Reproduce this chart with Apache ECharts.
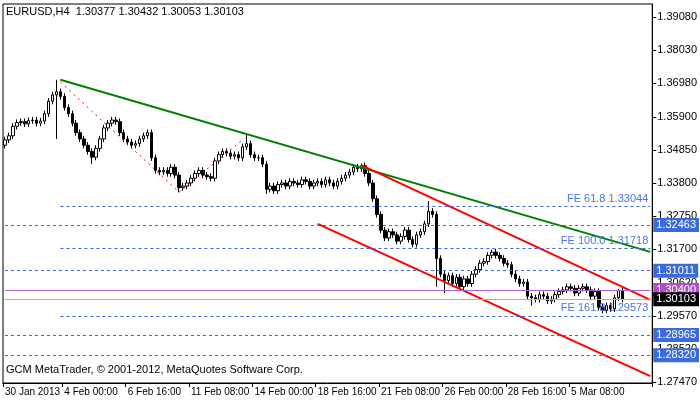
<!doctype html>
<html lang="en">
<head>
    <meta charset="UTF-8">
    <title>EURUSD H4</title>
    <style>
        body{margin:0;background:#fff;}
        #main{width:700px;height:402px;}
    </style>
    <script src="https://cdn.jsdelivr.net/npm/echarts@6/dist/echarts.min.js"></script>
</head>
<body>
    <div id="main"></div>
    <script>
        // closes of the H4 candles, opens = previous close
        var firstOpen = 1.3500;
        var closes = [
            1.3517, 1.3530, 1.3560, 1.3572, 1.3575, 1.3568, 1.3578, 1.3580, 1.3570, 1.3577,
            1.3600, 1.3640, 1.3660, 1.3670, 1.3655, 1.3620, 1.3600, 1.3570, 1.3540, 1.3520,
            1.3500, 1.3480, 1.3462, 1.3490, 1.3520, 1.3555, 1.3570, 1.3580, 1.3575, 1.3540,
            1.3520, 1.3510, 1.3500, 1.3505, 1.3520, 1.3530, 1.3540, 1.3460, 1.3420, 1.3415,
            1.3420, 1.3410, 1.3430, 1.3405, 1.3365, 1.3370, 1.3380, 1.3395, 1.3410, 1.3420,
            1.3405, 1.3400, 1.3395, 1.3450, 1.3470, 1.3480, 1.3475, 1.3465, 1.3470, 1.3460,
            1.3495, 1.3505, 1.3470, 1.3460, 1.3460, 1.3440, 1.3360, 1.3370, 1.3355, 1.3375,
            1.3380, 1.3370, 1.3385, 1.3380, 1.3375, 1.3390, 1.3385, 1.3370, 1.3380, 1.3385,
            1.3375, 1.3390, 1.3380, 1.3370, 1.3385, 1.3395, 1.3405, 1.3415, 1.3430, 1.3425,
            1.3435, 1.3410, 1.3380, 1.3330, 1.3280, 1.3230, 1.3205, 1.3225, 1.3215, 1.3195,
            1.3210, 1.3230, 1.3200, 1.3185, 1.3215, 1.3225, 1.3250, 1.3290, 1.3280, 1.3140,
            1.3090, 1.3070, 1.3085, 1.3060, 1.3080, 1.3050, 1.3075, 1.3060, 1.3090, 1.3105,
            1.3125, 1.3130, 1.3150, 1.3160, 1.3150, 1.3140, 1.3125, 1.3120, 1.3090, 1.3075,
            1.3060, 1.3065, 1.3020, 1.3015, 1.3010, 1.3025, 1.3020, 1.3005, 1.3010, 1.3025,
            1.3035, 1.3040, 1.3050, 1.3045, 1.3030, 1.3045, 1.3050, 1.3040, 1.3020, 1.3035,
            1.2985, 1.2975, 1.2990, 1.2980, 1.3015, 1.3038, 1.30103
        ];
        // notable wick extremes (candle index -> price)
        var spikeHighs = {13: 1.3708, 28: 1.3590, 61: 1.3538, 90: 1.3442, 107: 1.3322, 123: 1.3168, 155: 1.3043};
        var spikeLows = {13: 1.3520, 22: 1.3440, 44: 1.3350, 66: 1.3345, 109: 1.3050, 111: 1.3030, 133: 1.2990, 152: 1.2966};
        var wick = 0.0010;
        var totalSlots = 164;

        var dateLabels = {0: '30 Jan 2013', 15: '4 Feb 00:00', 31: '6 Feb 16:00', 47: '11 Feb 08:00',
            63: '14 Feb 00:00', 79: '18 Feb 16:00', 95: '21 Feb 08:00', 111: '26 Feb 00:00',
            127: '28 Feb 16:00', 143: '5 Mar 08:00'};
        var priceTicks = [1.2747, 1.2852, 1.2957, 1.3062, 1.3170, 1.3275, 1.3380, 1.3485, 1.3590, 1.3698, 1.3803, 1.3908];
        var boxLevels = [1.32463, 1.31011, 1.28965, 1.28320];
        var feLevels = [{v: 1.33044, t: 'FE 61.8'}, {v: 1.31718, t: 'FE 100.0'}, {v: 1.29573, t: 'FE 161.8'}];
        var greenLine = [[14, 1.3708], [163, 1.3161]];
        var redUpper = [[90, 1.3437], [163, 1.3008]];
        var redLower = [[79, 1.3250], [163, 1.2766]];
        var zigzag = [[14, 1.3701], [44, 1.3351], [60, 1.3517]];

        var cats = [];
        for (var i = 0; i < totalSlots; i++) cats.push(String(i));
        var ohlc = [];
        var prev = firstOpen;
        for (var i = 0; i < closes.length; i++) {
            var o = prev, c = closes[i];
            var hi = spikeHighs[i] != null ? spikeHighs[i] : Math.max(o, c) + wick;
            var lo = spikeLows[i] != null ? spikeLows[i] : Math.min(o, c) - wick;
            ohlc.push([o, c, lo, hi]);
            prev = c;
        }

        var font = 'Liberation Sans';
        var lines = [];
        function seg(a, b, color, width, type) {
            lines.push([{coord: a, lineStyle: {color: color, width: width, type: type}}, {coord: b}]);
        }
        function boxLabel(text, bg) {
            return {show: true, position: 'end', formatter: text, color: '#fff', backgroundColor: bg,
                padding: [2, 3, 1, 3], fontSize: 11, fontFamily: font, distance: 3};
        }
        seg(greenLine[0], greenLine[1], '#008000', 2, 'solid');
        seg(redUpper[0], redUpper[1], '#ff0000', 2, 'solid');
        seg(redLower[0], redLower[1], '#ff0000', 2, 'solid');
        seg(zigzag[0], zigzag[1], '#ff0000', 1, [2, 4]);
        seg(zigzag[1], zigzag[2], '#ff0000', 1, [2, 4]);
        boxLevels.forEach(function (v) {
            lines.push([{coord: [0, v], lineStyle: {color: '#3b6bd6', width: 1, type: [3, 3]},
                label: boxLabel(v.toFixed(5), '#3b6bd6')}, {coord: [totalSlots - 1, v]}]);
        });
        feLevels.forEach(function (f) {
            lines.push([{coord: [14, f.v], lineStyle: {color: '#3b6bd6', width: 1, type: [3, 3]},
                label: {show: true, position: 'insideEndTop', formatter: f.t + ' ' + f.v.toFixed(5),
                    color: '#4a78e0', fontSize: 11, fontFamily: font, distance: 2}},
                {coord: [totalSlots - 1, f.v]}]);
        });
        lines.push([{coord: [0, 1.30400], lineStyle: {color: '#b060c8', width: 1, type: 'solid'},
            label: boxLabel('1.30400', '#b24ec8')}, {coord: [totalSlots - 1, 1.30400]}]);
        lines.push([{coord: [0, 1.30103], lineStyle: {color: '#b0b0b0', width: 1, type: 'solid'},
            label: boxLabel('1.30103', '#000')}, {coord: [totalSlots - 1, 1.30103]}]);

        var chart = echarts.init(document.getElementById('main'));
        chart.setOption({
            animation: false,
            backgroundColor: '#fff',
            grid: {left: 3, right: 43, top: 4, bottom: 19, show: true, borderColor: '#000', borderWidth: 1},
            xAxis: {
                type: 'category', data: cats, boundaryGap: true,
                axisLine: {lineStyle: {color: '#000'}},
                axisTick: {show: true, length: 4, interval: function (i) { return dateLabels[i] != null; }, lineStyle: {color: '#000'}},
                axisLabel: {
                    interval: function (i) { return dateLabels[i] != null; },
                    formatter: function (v) { return dateLabels[+v] || ''; },
                    showMinLabel: true, hideOverlap: false,
                    align: 'left', color: '#000', fontSize: 10, fontFamily: font, margin: 4
                },
                splitLine: {show: false}
            },
            yAxis: {
                type: 'value', position: 'right', min: 1.2744, max: 1.3949, scale: true,
                axisLine: {show: true, lineStyle: {color: '#000'}},
                axisTick: {show: true, length: 4, customValues: priceTicks, lineStyle: {color: '#000'}},
                axisLabel: {customValues: priceTicks, formatter: function (v) { return v.toFixed(5); },
                    color: '#000', fontSize: 11, fontFamily: font, margin: 5},
                splitLine: {show: false}
            },
            series: [{
                type: 'candlestick',
                data: ohlc,
                barWidth: 3,
                itemStyle: {color: '#fff', color0: '#000', borderColor: '#000', borderColor0: '#000', borderWidth: 1},
                markLine: {symbol: 'none', silent: true, animation: false, data: lines, label: {show: false}}
            }],
            graphic: [
                {type: 'text', left: 6, top: 6, style: {text: 'EURUSD,H4  1.30377 1.30432 1.30053 1.30103',
                    fill: '#000', font: '11px "Liberation Sans"'}},
                {type: 'text', left: 6, top: 364, style: {text: 'GCM MetaTrader, \u00a9 2001-2012, MetaQuotes Software Corp.',
                    fill: '#000', font: '11px "Liberation Sans"'}}
            ]
        });
    </script>
</body>
</html>
